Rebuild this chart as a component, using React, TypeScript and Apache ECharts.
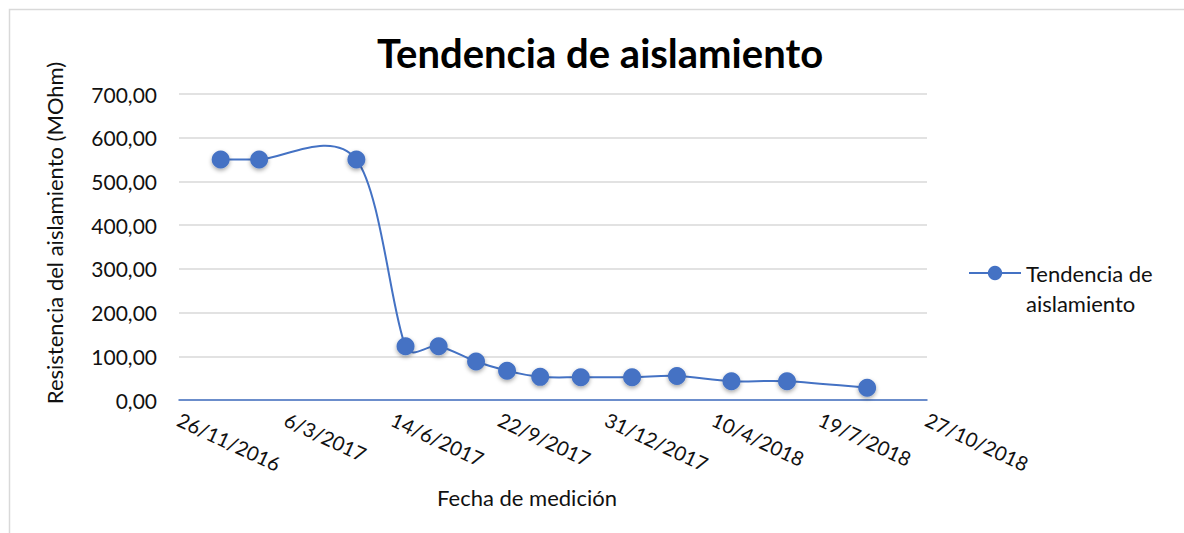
import React, { useEffect, useRef } from "react";
import * as echarts from "echarts";

const TITLE = "Tendencia de aislamiento";
const SERIES_NAME = "Tendencia de aislamiento";
const X_TITLE = "Fecha de medición";
const Y_TITLE = "Resistencia del aislamiento (MOhm)";

// axis start date (first tick) and tick step in days
const AXIS_START = "2016-11-26";
const AXIS_END_DAYS = 700;
const TICK_DAYS = 100;

const dates = [
  "2017-01-04",
  "2017-02-09",
  "2017-05-11",
  "2017-06-26",
  "2017-07-27",
  "2017-08-31",
  "2017-09-29",
  "2017-10-30",
  "2017-12-07",
  "2018-01-24",
  "2018-03-07",
  "2018-04-27",
  "2018-06-18",
  "2018-09-01",
];

// insulation resistance values (MOhm)
const values = [550, 550, 550, 123, 123, 88, 67, 53, 52, 52, 55, 43, 43, 28];

const DAY = 86400000;
const parseUTC = (s: string) => {
  const [y, m, d] = s.split("-").map(Number);
  return Date.UTC(y, m - 1, d);
};
const base = parseUTC(AXIS_START);

const fmtDate = (days: number) => {
  const dt = new Date(base + Math.round(days) * DAY);
  return `${dt.getUTCDate()}/${dt.getUTCMonth() + 1}/${dt.getUTCFullYear()}`;
};

const FONT = "Lato, 'Open Sans', sans-serif";
const BLUE = "#4472C4";
const TXT = "#111";

export default function App() {
  const ref = useRef<HTMLDivElement>(null);

  useEffect(() => {
    if (!ref.current) return;
    const chart = echarts.init(ref.current, undefined, { renderer: "svg" });
    const data = dates.map((d, i) => [(parseUTC(d) - base) / DAY, values[i]]);

    // limit a control vector to half the segment length (Excel-like smoothing)
    const cap = (vx: number, vy: number, segLen: number) => {
      const len = Math.hypot(vx, vy);
      const lim = segLen / 2;
      if (len > lim && len > 0) {
        const k = lim / len;
        return [vx * k, vy * k];
      }
      return [vx, vy];
    };

    // Excel-like smoothed line through the data points, placed via the axes
    const renderCurve = (params: any, api: any) => {
      const i = params.dataIndex;
      if (i === 0) return null;
      const pts = data.map((d) => api.coord(d));
      const p0 = pts[i - 1];
      const p1 = pts[i];
      const prev = pts[i - 2] || p0;
      const next = pts[i + 1] || p1;
      const seg = Math.hypot(p1[0] - p0[0], p1[1] - p0[1]);
      const v0 = cap((p1[0] - prev[0]) / 6, (p1[1] - prev[1]) / 6, seg);
      const v1 = cap((next[0] - p0[0]) / 6, (next[1] - p0[1]) / 6, seg);
      return {
        type: "bezierCurve",
        shape: {
          x1: p0[0],
          y1: p0[1],
          cpx1: p0[0] + v0[0],
          cpy1: p0[1] + v0[1],
          cpx2: p1[0] - v1[0],
          cpy2: p1[1] - v1[1],
          x2: p1[0],
          y2: p1[1],
        },
        style: { stroke: BLUE, lineWidth: 2, fill: "none" },
      };
    };

    chart.setOption({
      animation: false,
      backgroundColor: "#ffffff",
      textStyle: { fontFamily: FONT },
      title: {
        text: TITLE,
        left: 595,
        top: 28,
        textAlign: "center",
        textStyle: { fontFamily: FONT, fontSize: 40, fontWeight: "bold", color: "#000" },
      },
      grid: { left: 179, right: 257, top: 94, bottom: 133, containLabel: false },
      legend: {
        left: 968,
        top: 228,
        padding: 0,
        itemWidth: 52,
        itemHeight: 18,
        formatter: () => "\nTendencia de\naislamiento",
        lineStyle: { opacity: 1, width: 2, color: BLUE },
        textStyle: {
          fontFamily: FONT,
          fontSize: 22,
          color: TXT,
          lineHeight: 30,
        },
        data: [SERIES_NAME],
      },
      xAxis: {
        type: "value",
        min: 0,
        max: AXIS_END_DAYS,
        interval: TICK_DAYS,
        splitLine: { show: false },
        axisTick: { show: false },
        axisLine: { show: true, lineStyle: { color: BLUE, width: 1.5 } },
        axisLabel: {
          rotate: -25,
          margin: 18,
          fontFamily: FONT,
          fontSize: 20,
          color: TXT,
          formatter: (v: number) => fmtDate(v),
        },
      },
      yAxis: {
        type: "value",
        min: 0,
        max: 700,
        interval: 100,
        axisLine: { show: false },
        axisTick: { show: false },
        splitLine: { lineStyle: { color: "#D9D9D9", width: 1.5 } },
        axisLabel: {
          margin: 22,
          fontFamily: FONT,
          fontSize: 21,
          color: TXT,
          formatter: (v: number) => v.toFixed(2).replace(".", ","),
        },
      },
      series: [
        {
          name: "curve",
          type: "custom",
          coordinateSystem: "cartesian2d",
          encode: { x: 0, y: 1 },
          data,
          silent: true,
          z: 1,
          renderItem: renderCurve,
        },
        {
          name: SERIES_NAME,
          type: "line",
          data,
          z: 3,
          symbol: "circle",
          symbolSize: 18,
          lineStyle: { color: BLUE, width: 2, opacity: 0 },
          itemStyle: {
            color: BLUE,
            shadowBlur: 4,
            shadowColor: "rgba(0,0,0,0.35)",
            shadowOffsetY: 2,
          },
        },
      ],
      graphic: [
        {
          type: "rect",
          left: 7,
          top: 7,
          shape: { width: 1300, height: 700 },
          style: { fill: "none", stroke: "#D9D9D9", lineWidth: 1.5 },
          silent: true,
          z: -10,
        },
        {
          type: "text",
          x: 527,
          y: 497,
          style: {
            text: X_TITLE,
            fontFamily: FONT,
            fontSize: 22,
            fill: TXT,
            align: "center",
            verticalAlign: "middle",
          },
        },
        {
          type: "text",
          x: 54,
          y: 233,
          rotation: Math.PI / 2,
          style: {
            text: Y_TITLE,
            fontFamily: FONT,
            fontSize: 22,
            fill: TXT,
            align: "center",
            verticalAlign: "middle",
          },
        },
      ],
    });

    return () => chart.dispose();
  }, []);

  return (
    <div
      ref={ref}
      style={{ position: "absolute", left: 0, top: 0, width: 1184, height: 533 }}
    />
  );
}
